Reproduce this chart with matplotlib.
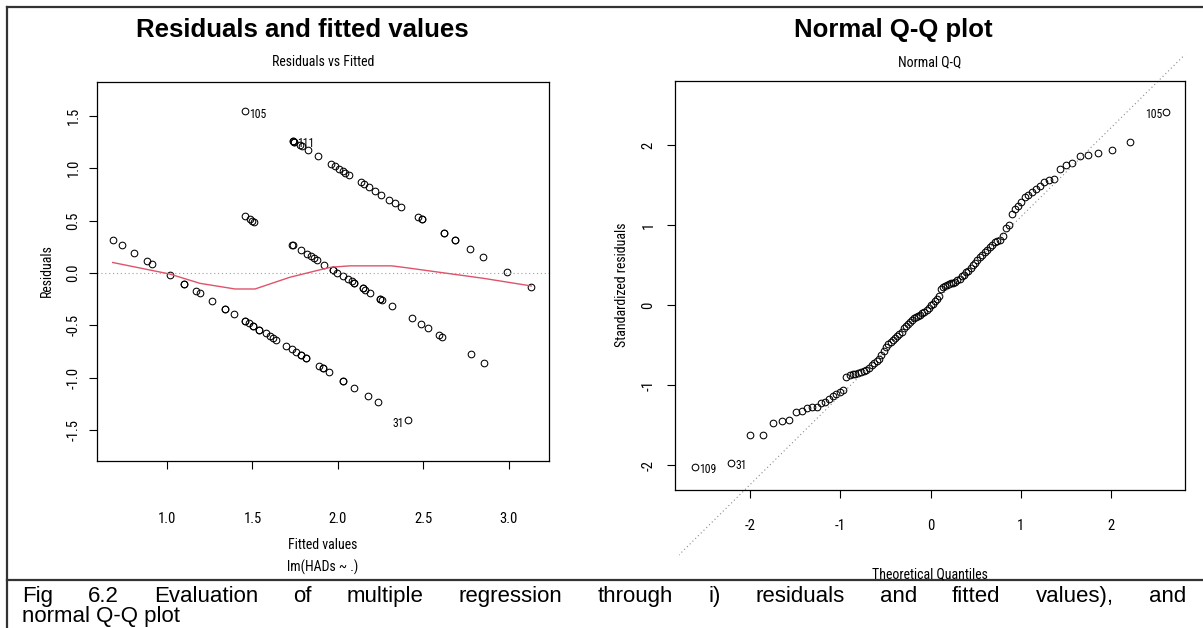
import matplotlib
matplotlib.use("Agg")
import matplotlib.pyplot as plt
from matplotlib import font_manager
from matplotlib.font_manager import FontProperties
from matplotlib.lines import Line2D
from matplotlib.transforms import Bbox, TransformedBbox
from statistics import NormalDist
import numpy as np

plt.rcParams["axes.unicode_minus"] = False

SANS = ["Liberation Sans", "DejaVu Sans"]

# fitted values of lm(HADs ~ .), grouped by the observed HADs score
obs_levels = [1, 2, 3]
fitted_obs1 = [0.683, 0.737, 0.809, 0.885, 0.912, 1.016, 1.101, 1.101, 1.170, 1.195,
               1.263, 1.341, 1.341, 1.394, 1.456, 1.456, 1.481, 1.505, 1.505, 1.540,
               1.540, 1.577, 1.602, 1.618, 1.637, 1.696, 1.729, 1.754, 1.782, 1.782,
               1.811, 1.811, 1.891, 1.911, 1.911, 1.946, 2.031, 2.031, 2.095, 2.177,
               2.236, 2.409]
fitted_obs2 = [1.456, 1.485, 1.499, 1.509, 1.729, 1.735, 1.782, 1.817, 1.840, 1.860,
               1.875, 1.920, 1.969, 1.973, 1.996, 2.027, 2.060, 2.080, 2.094, 2.094,
               2.148, 2.148, 2.158, 2.189, 2.246, 2.246, 2.256, 2.316, 2.433, 2.483,
               2.528, 2.591, 2.608, 2.776, 2.856]
fitted_obs3 = [1.456, 1.739, 1.739, 1.745, 1.745, 1.778, 1.788, 1.826, 1.881, 1.959,
               1.982, 2.006, 2.028, 2.041, 2.064, 2.133, 2.152, 2.181, 2.216, 2.251,
               2.300, 2.335, 2.367, 2.470, 2.489, 2.489, 2.622, 2.622, 2.684, 2.684,
               2.772, 2.846, 2.986, 3.130]
# ids of the three largest |residuals|, in decreasing order
resid_ids = ["105", "31", "111"]

# smoother through the residuals
smooth_x = [0.683, 1.016, 1.193, 1.398, 1.515, 1.719, 1.914, 1.960, 2.070, 2.314,
            2.400, 2.538, 2.850, 3.130]
smooth_y = [0.100, -0.010, -0.099, -0.153, -0.153, -0.041, 0.038, 0.055, 0.068, 0.068,
            0.050, 0.019, -0.051, -0.124]

# sorted standardized residuals
std_resid = [-2.025, -1.967, -1.625, -1.625, -1.471, -1.446, -1.441, -1.341, -1.321, -1.291,
             -1.279, -1.279, -1.229, -1.208, -1.179, -1.134, -1.113, -1.091, -1.063, -0.904,
             -0.875, -0.865, -0.855, -0.846, -0.834, -0.825, -0.813, -0.780, -0.750, -0.720,
             -0.700, -0.670, -0.620, -0.570, -0.520, -0.490, -0.460, -0.430, -0.410, -0.390,
             -0.360, -0.330, -0.290, -0.260, -0.235, -0.210, -0.190, -0.165, -0.150, -0.135,
             -0.120, -0.100, -0.080, -0.060, -0.030, 0.000, 0.020, 0.050, 0.080, 0.110,
             0.200, 0.230, 0.240, 0.250, 0.260, 0.270, 0.280, 0.290, 0.310, 0.330,
             0.360, 0.380, 0.410, 0.430, 0.460, 0.500, 0.530, 0.560, 0.600, 0.630,
             0.660, 0.690, 0.730, 0.750, 0.790, 0.800, 0.815, 0.860, 0.960, 1.000,
             1.140, 1.200, 1.235, 1.290, 1.345, 1.375, 1.415, 1.455, 1.490, 1.540,
             1.560, 1.575, 1.705, 1.755, 1.770, 1.860, 1.875, 1.905, 1.940, 2.040,
             2.410]
qq_ids = ["109", "31", "105"]  # lowest, second lowest, highest

resid_ticks_x = [1.0, 1.5, 2.0, 2.5, 3.0]
resid_ticks_y = [-1.5, -1.0, -0.5, 0.0, 0.5, 1.0, 1.5]
qq_ticks = [-2, -1, 0, 1, 2]

caption_line1 = "Fig 6.2 Evaluation of multiple regression through i) residuals and fitted values), and"
caption_line2 = "normal Q-Q plot"

W, H = 1203, 628


def narrow_font(size):
    """A condensed sans if one is installed, else a smaller Liberation Sans."""
    fonts = font_manager.fontManager.ttflist
    names = {f.name for f in fonts}
    for name in ["Liberation Sans Narrow", "Arial Narrow", "Roboto Condensed",
                 "Noto Sans Condensed", "Open Sans Condensed", "DejaVu Sans Condensed"]:
        if name in names:
            return FontProperties(family=name, size=size)
    for f in fonts:
        if f.name in ("Noto Sans", "DejaVu Sans", "Open Sans") and "condensed" in str(f.stretch) \
                and f.weight in (400, "normal", "regular"):
            return FontProperties(fname=f.fname, size=size)
    return FontProperties(family="Liberation Sans", size=size * 0.86)


def fx(px):
    return px / W


def fy(py):
    return 1 - py / H


def box(x0, y0, x1, y1):
    return [fx(x0), fy(y1), (x1 - x0) / W, (y1 - y0) / H]


def clip_rect(fig, x0, y0, x1, y1):
    return TransformedBbox(Bbox([[fx(x0), fy(y1)], [fx(x1), fy(y0)]]), fig.transFigure)


tick_fp = narrow_font(10.5)
lab_fp = narrow_font(10)
id_fp = narrow_font(8.5)

fig = plt.figure(figsize=(W / 100, H / 100), dpi=100)

# ---- residuals vs fitted ----
fitted = np.concatenate([fitted_obs1, fitted_obs2, fitted_obs3])
observed = np.concatenate([np.full(len(g), lv) for lv, g in
                           zip(obs_levels, [fitted_obs1, fitted_obs2, fitted_obs3])])
resid = observed - fitted

ax1 = fig.add_axes(box(97, 82, 549, 461))
ax1.plot(fitted, resid, "o", mfc="none", mec="black", ms=4.8, mew=0.75)
hl = ax1.axhline(0, color="#9e9e9e", lw=0.8, ls=(0, (1, 2.5)))
hl.set_clip_box(clip_rect(fig, 97, 0, 598, H))
ax1.plot(smooth_x, smooth_y, color="#DF536B", lw=1.0)

order = np.argsort(-np.abs(resid))[:3]
xmid = (fitted.min() + fitted.max()) / 2
for lab, i in zip(resid_ids, order):
    left_side = fitted[i] < xmid
    ax1.annotate(lab, (fitted[i], resid[i]), xytext=(3 if left_side else -3, -2),
                 textcoords="offset points", ha="left" if left_side else "right",
                 va="center", fontproperties=id_fp)

ax1.set_xlim(0.591, 3.234)
ax1.set_ylim(-1.796, 1.824)
ax1.set_xticks(resid_ticks_x)
ax1.set_xticklabels([f"{v:.1f}" for v in resid_ticks_x])
ax1.set_yticks(resid_ticks_y)
ax1.set_yticklabels([f"{v:.1f}" for v in resid_ticks_y], rotation=90, va="center")
ax1.tick_params(axis="x", direction="out", length=6, width=0.8, pad=31)
ax1.tick_params(axis="y", direction="out", length=6, width=0.8, pad=6)

# ---- normal Q-Q ----
n = len(std_resid)
theo = np.array([NormalDist().inv_cdf((i + 0.5) / n) for i in range(n)])
std_resid = np.array(std_resid)

ax2 = fig.add_axes(box(675, 81, 1185, 490))
ax2.plot(theo, std_resid, "o", mfc="none", mec="black", ms=4.8, mew=0.75)

q1, q3 = np.quantile(std_resid, [0.25, 0.75])
z1, z3 = NormalDist().inv_cdf(0.25), NormalDist().inv_cdf(0.75)
slope = (q3 - q1) / (z3 - z1)
intercept = q1 - slope * z1
lx = np.array([-5.0, 5.0])
ql, = ax2.plot(lx, intercept + slope * lx, color="#8a8a8a", lw=0.8, ls=(0, (1, 2.5)))
ql.set_clip_box(clip_rect(fig, 679, 55, 1196, 560))

for lab, i in zip(qq_ids, [0, 1, n - 1]):
    left_side = theo[i] < 0
    ax2.annotate(lab, (theo[i], std_resid[i]), xytext=(3 if left_side else -3, -2),
                 textcoords="offset points", ha="left" if left_side else "right",
                 va="center", fontproperties=id_fp)

ax2.set_xlim(-2.83, 2.817)
ax2.set_ylim(-2.31, 2.80)
ax2.set_xticks(qq_ticks)
ax2.set_xticklabels([str(v) for v in qq_ticks])
ax2.set_yticks(qq_ticks)
ax2.set_yticklabels([str(v) for v in qq_ticks], rotation=90, va="center")
ax2.tick_params(axis="x", direction="out", length=6, width=0.8, pad=15)
ax2.tick_params(axis="y", direction="out", length=6, width=0.8, pad=8)

for ax in (ax1, ax2):
    for lbl in ax.get_xticklabels() + ax.get_yticklabels():
        lbl.set_fontproperties(tick_fp)
    for s in ax.spines.values():
        s.set_linewidth(0.9)
        s.set_color("black")

# ---- panel titles and axis labels ----
fig.text(fx(302), fy(30), "Residuals and fitted values", ha="center", va="center",
         fontsize=18.5, fontweight="bold", family=SANS)
fig.text(fx(893), fy(30), "Normal Q-Q plot", ha="center", va="center",
         fontsize=18.5, fontweight="bold", family=SANS)
fig.text(fx(323), fy(62), "Residuals vs Fitted", ha="center", va="center", fontproperties=lab_fp)
fig.text(fx(930), fy(62), "Normal Q-Q", ha="center", va="center", fontproperties=lab_fp)
fig.text(fx(323), fy(545), "Fitted values", ha="center", va="center", fontproperties=lab_fp)
fig.text(fx(323), fy(567), "lm(HADs ~ .)", ha="center", va="center", fontproperties=lab_fp)
fig.text(fx(47), fy(271), "Residuals", ha="center", va="center", rotation=90,
         fontproperties=lab_fp)
fig.text(fx(930), fy(574), "Theoretical Quantiles", ha="center", va="center",
         fontproperties=lab_fp)
fig.text(fx(622), fy(285), "Standardized residuals", ha="center", va="center",
         rotation=90, fontproperties=lab_fp)

# ---- table rules ----
rule = dict(color="#333333", lw=1.6, transform=fig.transFigure)
fig.add_artist(Line2D([fx(7), 1], [fy(7), fy(7)], **rule))
fig.add_artist(Line2D([fx(7), fx(7)], [fy(7), 0], **rule))
fig.add_artist(Line2D([fx(7), 1], [fy(580), fy(580)], **rule))

# ---- justified caption ----
renderer = fig.canvas.get_renderer()
words = caption_line1.split()
items = [fig.text(0, fy(602), w, ha="left", va="baseline", fontsize=16, family=SANS)
         for w in words]
widths = [t.get_window_extent(renderer).width for t in items]
left, right = 22, 1186
gap = (right - left - sum(widths)) / (len(words) - 1)
x = left
for t, w in zip(items, widths):
    t.set_x(fx(x))
    x += w + gap
fig.text(fx(left), fy(622), caption_line2, ha="left", va="baseline", fontsize=16, family=SANS)

fig.savefig("out.png", dpi=100)
